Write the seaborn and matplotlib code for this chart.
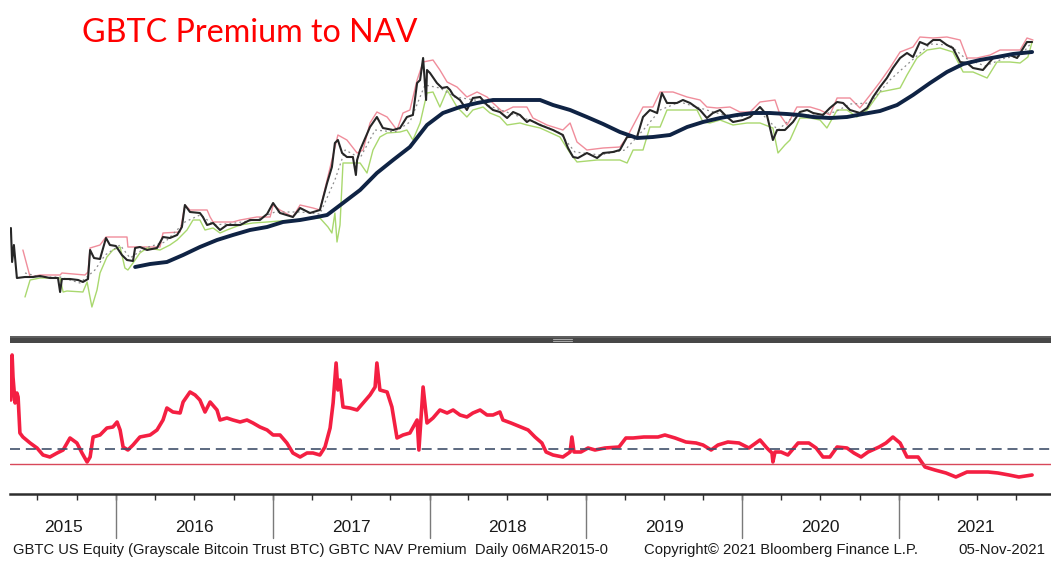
import numpy as np
import pandas as pd
import matplotlib
matplotlib.use("Agg")
import matplotlib.pyplot as plt
import matplotlib.dates as mdates
import matplotlib.transforms as mtransforms
from matplotlib.patches import Rectangle
from matplotlib.lines import Line2D
import seaborn as sns

# ---------------- data (x = weeks since 28-Apr-2015) ----------------
START = pd.Timestamp("2015-04-28")

price_weeks = [0.3, 0.7, 1.3, 2.3, 5.0, 7.7, 10.0, 13.3, 16.0, 16.7, 17.3, 20.0, 22.7, 24.3, 26.0, 26.7,
               28.0, 30.0, 32.0, 33.3, 35.3, 37.3, 39.0, 41.0, 41.7, 43.3, 45.7, 49.0, 51.0, 53.3, 55.7,
               57.3, 58.3, 60.0, 63.3, 64.3, 65.7, 67.7, 70.0, 72.3, 76.7, 80.0, 83.3, 85.7, 87.7, 90.0,
               94.3, 96.7, 100.0, 103.3, 105.7, 107.3, 108.3, 109.3, 110.7, 112.3, 114.3, 115.3, 115.7,
               116.7, 120.0, 122.3, 124.3, 127.7, 130.0, 132.3, 134.3, 135.7, 136.7, 137.7, 138.7, 139.0,
               140.0, 142.3, 144.0, 145.7, 146.7, 147.7, 150.0, 152.3, 154.3, 156.7, 159.0, 161.0, 163.3,
               165.7, 167.7, 170.0, 172.3, 173.3, 176.7, 181.0, 184.3, 186.0, 187.7, 189.3, 192.3, 195.7,
               197.7, 201.0, 203.3, 205.7, 209.0, 211.0, 213.3, 215.7, 217.3, 219.0, 222.3, 224.3, 226.7,
               230.0, 232.3, 234.3, 236.7, 239.0, 241.0, 244.3, 246.7, 250.0, 252.3, 254.3, 255.7, 258.3,
               261.0, 263.3, 265.7, 267.7, 271.0, 273.3, 275.7, 277.7, 280.0, 283.3, 285.7, 287.7, 290.0,
               292.3, 294.3, 296.7, 299.0, 301.0, 303.3, 305.7, 307.7, 310.0, 312.3, 314.3, 316.7, 319.0,
               321.0, 324.3, 327.7, 330.0, 333.3, 335.7, 339.0, 340.7]
price_level = [112, 78, 95, 62, 63, 63, 64, 62, 62, 48, 61, 61, 60, 58, 61, 90,
               82, 81, 102, 95, 94, 85, 80, 79, 92, 93, 90, 92, 103, 102, 105,
               113, 135, 128, 127, 123, 115, 117, 110, 115, 115, 120, 120, 126, 137, 127,
               123, 132, 127, 130, 157, 173, 197, 200, 187, 183, 183, 165, 180,
               190, 213, 223, 212, 210, 212, 223, 225, 257, 260, 282, 240, 270,
               267, 257, 252, 253, 250, 245, 240, 230, 242, 243, 235, 230, 228,
               222, 228, 225, 218, 220, 215, 210, 205, 192, 183, 182, 187, 182,
               187, 188, 190, 203, 203, 223, 230, 227, 247, 237, 237, 240, 237,
               230, 222, 227, 230, 223, 218, 220, 223, 233, 225, 200, 210, 210,
               218, 228, 230, 227, 225, 232, 238, 237, 230, 227, 232, 243, 253,
               262, 272, 282, 287, 283, 298, 295, 300, 300, 295, 292, 278, 277,
               272, 270, 282, 283, 285, 282, 298, 298]

upper_weeks = [4.3, 6.7, 10.0, 16.7, 17.3, 25.0, 26.0, 26.7, 30.0, 32.0, 39.0, 39.3, 44.3, 50.0, 51.0,
               56.7, 58.3, 60.0, 65.7, 66.7, 67.7, 74.3, 76.7, 82.3, 86.7, 87.7, 90.0, 94.3, 96.7, 101.0,
               103.3, 105.7, 109.3, 112.3, 115.7, 117.7, 120.0, 122.3, 125.7, 129.0, 131.0, 133.3, 135.7,
               137.7, 141.0, 143.3, 145.7, 149.0, 152.3, 155.7, 159.0, 161.0, 164.3, 167.7, 172.3, 174.3,
               179.0, 184.3, 186.7, 189.0, 192.3, 197.7, 203.3, 205.7, 211.0, 214.3, 216.7, 221.0, 225.7,
               230.0, 232.3, 235.7, 240.0, 243.3, 246.7, 250.0, 255.0, 256.7, 259.0, 260.0, 262.3, 266.7,
               270.0, 273.3, 275.7, 280.0, 283.3, 286.7, 290.0, 293.3, 296.7, 301.0, 303.3, 307.7, 312.3,
               316.7, 319.0, 322.3, 326.7, 330.0, 336.7, 339.0, 341.0]
upper_level = [90, 63, 65, 65, 67, 65, 68, 92, 95, 103, 103, 93, 93, 93, 107,
               108, 135, 130, 130, 123, 118, 118, 120, 123, 123, 135, 130, 123, 135, 132,
               130, 160, 205, 200, 187, 190, 217, 228, 223, 210, 227, 230, 260,
               278, 280, 270, 258, 253, 243, 248, 243, 237, 228, 233, 233, 222,
               215, 210, 217, 198, 190, 192, 193, 203, 233, 233, 248, 248, 243,
               240, 233, 232, 233, 228, 228, 238, 240, 225, 215, 220, 233, 233,
               230, 225, 242, 242, 232, 245, 258, 272, 288, 293, 303, 302, 303,
               300, 282, 282, 285, 290, 290, 302, 300]

lower_weeks = [5.0, 6.7, 10.0, 16.7, 17.7, 19.0, 24.3, 25.7, 27.3, 29.0, 30.0, 32.3, 34.3, 36.7, 38.3,
               39.3, 41.0, 43.3, 45.7, 50.0, 53.3, 55.7, 59.0, 61.0, 63.3, 65.0, 67.7, 70.0, 72.3, 76.7,
               81.0, 85.7, 94.3, 103.3, 106.0, 107.3, 108.3, 109.0, 110.0, 111.0, 114.3, 116.7, 119.0,
               121.0, 123.3, 125.7, 130.0, 132.3, 134.3, 136.7, 139.0, 141.0, 143.3, 145.7, 149.0, 152.3,
               154.3, 157.7, 160.0, 163.3, 165.7, 170.0, 172.3, 176.7, 183.3, 186.7, 189.0, 195.7, 203.3,
               205.7, 207.7, 211.0, 213.3, 216.7, 219.0, 229.0, 231.0, 233.3, 236.7, 241.0, 245.7, 250.0,
               254.3, 256.0, 258.3, 260.0, 263.3, 266.7, 270.0, 272.3, 275.7, 279.0, 282.3, 285.7, 290.0,
               296.7, 299.0, 302.3, 305.7, 310.0, 314.3, 317.7, 321.0, 325.7, 329.0, 333.3, 336.7, 339.3,
               340.7]
lower_level = [43, 60, 62, 62, 48, 49, 48, 58, 33, 50, 67, 83, 90, 93, 72,
               70, 77, 87, 92, 90, 95, 100, 110, 120, 120, 110, 112, 107, 110, 115,
               117, 118, 120, 122, 113, 107, 127, 98, 115, 177, 177, 177, 167,
               190, 203, 207, 208, 210, 200, 217, 247, 248, 233, 250, 233, 223,
               230, 233, 227, 223, 215, 217, 215, 212, 203, 187, 178, 180, 180,
               177, 190, 190, 213, 213, 230, 230, 218, 217, 220, 215, 217, 217,
               212, 187, 195, 200, 222, 222, 220, 212, 230, 230, 223, 230, 248,
               252, 265, 282, 290, 292, 288, 268, 268, 262, 278, 278, 277, 283,
               298]

mid_weeks = [5.0, 10.0, 16.7, 23.3, 28.3, 31.7, 36.7, 40.0, 45.0, 51.7, 58.3, 63.3, 68.3, 75.0, 81.7,
             88.3, 96.7, 103.3, 108.3, 111.7, 116.7, 121.7, 128.3, 133.3, 138.3, 143.3, 148.3, 155.0,
             161.7, 168.3, 175.0, 183.3, 188.3, 196.7, 205.0, 211.7, 216.7, 223.3, 230.0, 236.7, 243.3,
             250.0, 256.0, 261.7, 268.3, 275.0, 280.0, 286.7, 293.3, 300.0, 306.7, 313.3, 318.3, 325.0,
             331.7, 336.7, 340.7]
mid_level = [67, 63, 63, 57, 70, 85, 95, 82, 92, 98, 118, 125, 115, 117, 120,
             128, 128, 126, 160, 190, 182, 210, 208, 218, 255, 252, 243, 240,
             232, 225, 218, 207, 188, 185, 190, 212, 230, 238, 232, 226, 223,
             228, 210, 225, 225, 228, 236, 237, 260, 278, 296, 295, 282, 274,
             282, 284, 298]

ma_weeks = [41.7, 46.7, 52.3, 57.7, 63.3, 69.0, 74.3, 80.0, 85.7, 91.0, 96.7, 102.3, 105.7, 111.0, 116.7,
            122.3, 127.7, 133.3, 139.0, 144.3, 150.0, 155.7, 161.0, 166.7, 172.3, 176.7, 181.0, 186.7,
            192.3, 197.7, 203.3, 209.0, 214.3, 220.0, 225.7, 231.0, 236.7, 242.3, 247.7, 253.3, 259.0,
            263.3, 267.7, 273.3, 279.0, 284.3, 290.0, 295.7, 301.0, 306.7, 312.3, 317.7, 323.3, 329.0,
            334.3, 340.7]
ma_level = [73, 76, 78, 85, 93, 100, 105, 110, 113, 118, 120, 123, 125, 137, 150,
            167, 180, 193, 215, 227, 233, 237, 240, 240, 240, 240, 235, 230,
            223, 216, 208, 202, 203, 205, 213, 218, 222, 225, 227, 227, 226,
            225, 223, 222, 223, 226, 229, 235, 245, 257, 268, 276, 280, 283,
            286, 288]

prem_weeks = [0.3, 0.7, 1.0, 1.7, 2.3, 2.7, 3.3, 4.3, 6.7, 9.0, 11.0, 13.3, 15.7, 17.7, 20.0, 22.3,
              24.0, 25.7, 26.7, 27.7, 30.0, 32.3, 34.3, 35.7, 36.7, 37.7, 39.3, 41.0, 43.3, 46.7, 49.0,
              51.0, 52.3, 54.3, 56.7, 57.7, 60.0, 61.7, 63.3, 65.0, 66.7, 69.0, 70.0, 72.3, 74.3, 76.7,
              79.0, 81.0, 83.3, 85.7, 87.7, 90.0, 92.3, 94.3, 96.7, 99.0, 101.0, 103.3, 105.0, 106.7,
              107.7, 108.7, 109.3, 110.0, 111.0, 113.3, 115.7, 117.7, 120.0, 121.7, 122.3, 123.3, 125.7,
              127.3, 129.0, 131.0, 133.3, 135.7, 136.3, 137.7, 139.0, 141.0, 143.3, 145.7, 147.7, 150.0,
              152.3, 154.3, 156.7, 159.0, 161.0, 163.3, 164.3, 167.0, 170.3, 172.7, 175.0, 177.3, 178.7,
              181.0, 184.3, 186.7, 187.3, 188.0, 190.3, 192.7, 195.0, 198.3, 203.0, 205.3, 207.7, 211.3,
              216.0, 218.3, 221.7, 225.3, 228.7, 231.0, 233.7, 236.0, 239.3, 243.0, 246.3, 250.0, 252.3,
              254.0, 254.3, 255.0, 257.0, 259.3, 262.7, 266.3, 268.7, 271.0, 273.3, 275.7, 279.0, 281.3,
              283.7, 286.0, 289.7, 292.0, 294.3, 296.7, 299.0, 302.7, 305.0, 308.3, 312.0, 315.3, 319.0,
              322.3, 326.0, 329.3, 333.0, 336.3, 340.7]
prem_pct = [96, 163.5, 130.5, 91.5, 106.5, 100.5, 46.5, 40.5, 31.5, 24, 13.5, 10.5, 16.5, 21, 39, 31.5,
            16.5, 3, 10.5, 40.5, 43.5, 54, 55.5, 63, 51, 25.5, 21, 28.5, 40.5, 43.5, 51,
            66, 84, 78, 76.5, 93, 108, 103.5, 96, 78, 93, 81, 66, 69, 66, 63,
            66, 61.5, 55.5, 51, 43.5, 43.5, 31.5, 16.5, 10.5, 16.5, 16.5, 13.5, 25.5, 54,
            91.5, 151.5, 111, 126, 85.5, 84, 81, 91.5, 103.5, 115.5, 151.5, 111, 108,
            85.5, 39, 43.5, 46.5, 66, 21, 115.5, 61.5, 69, 81, 76.5, 81, 73.5,
            70.5, 76.5, 81, 73.5, 73.5, 78, 66, 61.5, 55.5, 51, 40.5, 31.5, 18,
            13.5, 10.5, 18, 40.5, 18, 18, 24, 21, 24, 25.5, 39, 39, 40.5,
            40.5, 43.5, 39, 33, 31.5, 28.5, 21, 28.5, 33, 31.5, 24, 36, 24,
            16.5, 3, 18, 18, 13.5, 31.5, 31.5, 24, 10.5, 10.5, 25.5, 24, 16.5,
            10.5, 18, 25.5, 31.5, 40.5, 31.5, 10.5, 10.5, -4.5, -9, -13.5, -19.5, -12,
            -12, -12, -13.5, -16.5, -19.5, -16.5]
prem_average = 22.5
prem_zero = 0.0

years = [2015, 2016, 2017, 2018, 2019, 2020, 2021]
title_text = "GBTC Premium to NAV"
footer_left = "GBTC US Equity (Grayscale Bitcoin Trust BTC) GBTC NAV Premium  Daily 06MAR2015-0"
footer_mid = "Copyright\u00a9 2021 Bloomberg Finance L.P."
footer_right = "05-Nov-2021"


def to_dates(weeks):
    return START + pd.to_timedelta(np.asarray(weeks, dtype=float) * 7, unit="D")


def frame(weeks, vals):
    return pd.DataFrame({"date": to_dates(weeks), "v": vals})


# ---------------- figure ----------------
sns.set_style("white")
plt.rcParams["font.family"] = ["Liberation Sans", "DejaVu Sans"]

W, H = 1051, 562
fig = plt.figure(figsize=(W / 100, H / 100), dpi=100)


def fx(px):
    return px / W


def fy(py):
    return 1 - py / H


X0 = START
X1 = START + pd.Timedelta(days=347 * 7)

# top panel
ax1 = fig.add_axes([fx(10), fy(336), fx(1041), (336 - 20) / H])
sns.lineplot(data=frame(upper_weeks, upper_level), x="date", y="v", ax=ax1,
             color="#f08d9b", lw=1.0, estimator=None, sort=False, legend=False)
sns.lineplot(data=frame(lower_weeks, lower_level), x="date", y="v", ax=ax1,
             color="#a9d86e", lw=1.0, estimator=None, sort=False, legend=False)
sns.lineplot(data=frame(mid_weeks, mid_level), x="date", y="v", ax=ax1,
             color="#8c8c8c", lw=0.9, linestyle=(0, (1.5, 2.5)), estimator=None, sort=False, legend=False)
sns.lineplot(data=frame(price_weeks, price_level), x="date", y="v", ax=ax1,
             color="#262626", lw=1.5, estimator=None, sort=False, legend=False)
sns.lineplot(data=frame(ma_weeks, ma_level), x="date", y="v", ax=ax1,
             color="#0f2344", lw=2.8, estimator=None, sort=False, legend=False)
ax1.set_xlim(X0, X1)
ax1.set_ylim(4, 320)
ax1.set_axis_off()

# separator bar
fig.patches.append(Rectangle((fx(10), fy(343)), 1 - fx(10), 7 / H, transform=fig.transFigure,
                             facecolor="#474747", edgecolor="none"))
fig.patches.append(Rectangle((fx(10), fy(337.5)), 1 - fx(10), 1.5 / H, transform=fig.transFigure,
                             facecolor="#5e5e5e", edgecolor="none"))
for gy in (338.8, 340.6):
    fig.lines.append(Line2D([fx(553), fx(572)], [fy(gy), fy(gy)], transform=fig.transFigure,
                            color="#a8a8a8", lw=0.8))

# bottom panel
ax2 = fig.add_axes([fx(10), fy(494), fx(1041), (494 - 343) / H])
sns.lineplot(data=frame(prem_weeks, prem_pct), x="date", y="v", ax=ax2,
             color="#f41f42", lw=2.6, estimator=None, sort=False, legend=False)
ax2.axhline(prem_average, color="#41506b", lw=1.2, linestyle=(0, (6, 3.5)))
ax2.axhline(prem_zero, color="#d8485a", lw=1.0)
ax2.set_xlim(X0, X1)
ax2.set_ylim(-45, 181.5)
ax2.set_xlabel("")
ax2.set_ylabel("")
ax2.set_yticks([])
for s in ("top", "left", "right"):
    ax2.spines[s].set_visible(False)
ax2.spines["bottom"].set_color("#2e2e2e")
ax2.spines["bottom"].set_linewidth(1.8)
ax2.xaxis.set_major_locator(mdates.MonthLocator(bymonth=[1, 4, 7, 10]))
ax2.xaxis.set_major_formatter(plt.NullFormatter())
ax2.tick_params(axis="x", which="major", direction="out", length=4, width=1.0, color="#2e2e2e", bottom=True)

trans = mtransforms.blended_transform_factory(ax2.transData, ax2.transAxes)
sep_bottom = -(538 - 494) / 151
label_y = -(528 - 494) / 151
xl0, xl1 = mdates.date2num(X0), mdates.date2num(X1)
for yr in years:
    a = max(mdates.date2num(pd.Timestamp(f"{yr}-01-01")), xl0)
    b = min(mdates.date2num(pd.Timestamp(f"{yr + 1}-01-01")), xl1)
    if yr > years[0]:
        ax2.add_line(Line2D([a, a], [0, sep_bottom], transform=trans, color="#7a7a7a", lw=1.0, clip_on=False))
    ax2.text((a + b) / 2, label_y, str(yr), transform=trans, ha="center", va="center",
             fontsize=12.5, color="#1a1a1a")

# texts
t_title = fig.text(fx(82), fy(33), title_text, color="#ff0000", fontsize=23,
                   family=["Lato", "DejaVu Sans"], ha="left", va="center")
t_f1 = fig.text(fx(13), fy(550), footer_left, fontsize=10, color="#1a1a1a", ha="left", va="center")
t_f2 = fig.text(fx(644), fy(550), footer_mid, fontsize=10, color="#1a1a1a", ha="left", va="center")
t_f3 = fig.text(fx(958), fy(550), footer_right, fontsize=10, color="#1a1a1a", ha="left", va="center")

fig.canvas.draw()
renderer = fig.canvas.get_renderer()
for t, target in ((t_title, 336), (t_f1, 592), (t_f2, 274), (t_f3, 87)):
    wpx = t.get_window_extent(renderer).width
    t.set_fontsize(t.get_fontsize() * target / wpx)

fig.savefig("out.png", dpi=100, facecolor="white")
